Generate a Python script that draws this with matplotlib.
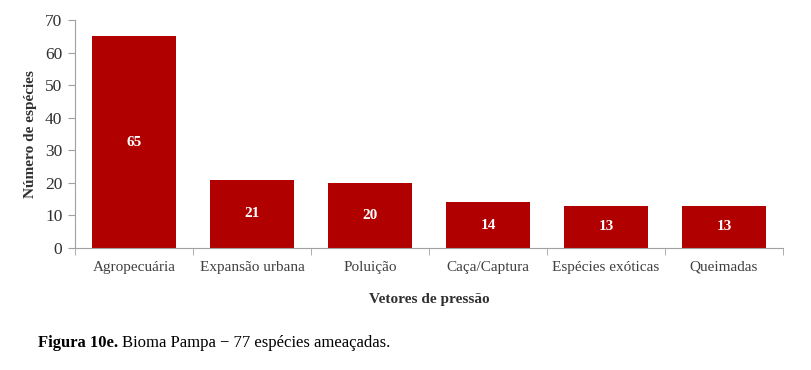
import matplotlib
matplotlib.use('Agg')
import matplotlib.pyplot as plt
import numpy as np

categorias = ['Agropecuária', 'Expansão urbana', 'Poluição', 'Caça/Captura',
              'Espécies exóticas', 'Queimadas']
valores = [65, 21, 20, 14, 13, 13]
yticks = [0, 10, 20, 30, 40, 50, 60, 70]

plt.rcParams['font.family'] = ['Liberation Serif', 'DejaVu Serif']

fig = plt.figure(figsize=(8.12, 3.70), dpi=100)
ax = fig.add_axes([75/812, 1 - 248/370, (783 - 75)/812, (248 - 20)/370])

x = np.arange(len(categorias))
barras = ax.bar(x, valores, width=0.71, color='#B00000')

for b, v in zip(barras, valores):
    ax.text(b.get_x() + b.get_width()/2, v/2, str(v), ha='center', va='center',
            color='white', fontweight='bold', fontsize=11)

ax.set_xlim(-0.5, len(categorias) - 0.5)
ax.set_ylim(0, 70)
ax.set_yticks(yticks)
ax.set_xticks(x)
ax.set_xticklabels(categorias)
ax.set_xticks(np.arange(len(categorias) + 1) - 0.5, minor=True)

cinza = '#A0A0A0'
for lado in ['top', 'right']:
    ax.spines[lado].set_visible(False)
for lado in ['left', 'bottom']:
    ax.spines[lado].set_color(cinza)
ax.tick_params(axis='x', which='major', length=0, pad=9, labelsize=11, labelcolor='#404040')
ax.tick_params(axis='x', which='minor', length=5, color=cinza)
ax.tick_params(axis='y', length=5, color=cinza, labelsize=12.5, labelcolor='#303030', pad=4)

ax.set_ylabel('Número de espécies', fontweight='bold', fontsize=11, color='#303030', labelpad=6)
ax.set_xlabel('Vetores de pressão', fontweight='bold', fontsize=11, color='#303030', labelpad=14)

# legenda da figura: parte em negrito + resto
t1 = fig.text(38/812, 1 - 343/370, 'Figura 10e.', fontweight='bold', fontsize=12, va='center')
fig.canvas.draw()
bb = t1.get_window_extent()
fig.text((bb.x1 + 4)/812, 1 - 343/370, 'Bioma Pampa \u2212 77 espécies ameaçadas.',
         fontsize=12, va='center')

fig.savefig('out.png', dpi=100)
